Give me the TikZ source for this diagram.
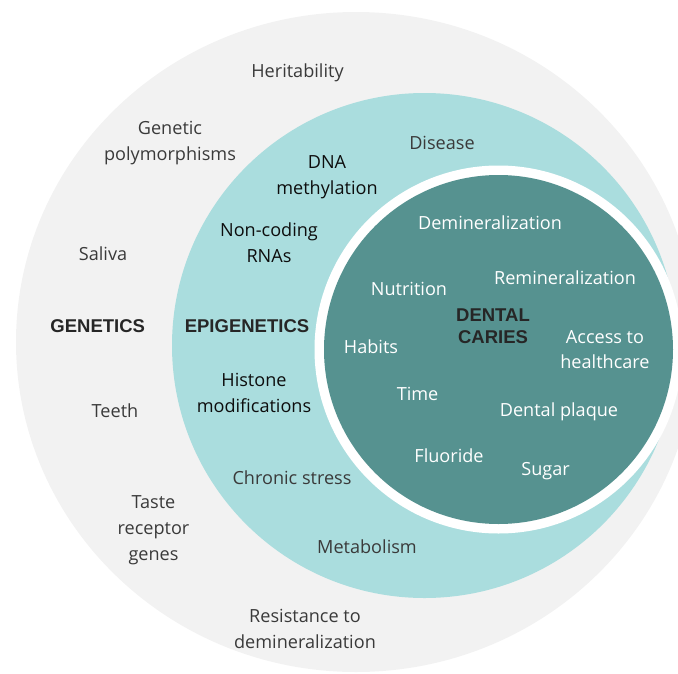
\documentclass[tikz,border=0pt]{standalone}
\usepackage{fontspec}
\setmainfont{Open Sans}
\newfontfamily\headfont{Liberation Sans}
\definecolor{genegrey}{HTML}{F2F2F2}
\definecolor{epiteal}{HTML}{AADDDE}
\definecolor{cariesteal}{HTML}{569290}
\definecolor{labelgrey}{HTML}{3A3A3A}
\definecolor{labelblack}{HTML}{0D0D0D}
\definecolor{headgrey}{HTML}{262626}
\begin{document}
\begin{tikzpicture}[x=1pt,y=-1pt,
  lbl/.style={align=center, inner sep=0pt, font=\fontsize{18.1}{25.8}\selectfont},
  outerlbl/.style={lbl, text=labelgrey},
  epilbl/.style={lbl, text=labelblack},
  episoft/.style={lbl, text=labelgrey},
  carieslbl/.style={lbl, text=white},
  heading/.style={align=center, inner sep=0pt, text=headgrey,
    font=\headfont\bfseries\fontsize{18.5}{22}\selectfont}]
\useasboundingbox (0,0) rectangle (678,673);
\clip (0,0) rectangle (678,673);

% nested zones: genetics, epigenetics, dental caries
\fill[genegrey] (356,342) ellipse [x radius=340, y radius=330];
\fill[epiteal] (424.5,345.5) circle (252.5);
\fill[white] (498.5,349.5) circle (184);
\fill[cariesteal] (498.5,349.5) circle (174.5);

% genetics zone
\node[outerlbl] (her) at (297.5,72.5) {Heritability};
\node[outerlbl] (poly) at (170,143) {Genetic\\polymorphisms};
\node[outerlbl] (saliva) at (103,254) {Saliva};
\node[heading] (genetics) at (97.7,326) {GENETICS};
\node[outerlbl] (teeth) at (115,411) {Teeth};
\node[outerlbl] (taste) at (153.5,530.5) {Taste\\receptor\\genes};
\node[outerlbl] (resist) at (305,629) {Resistance to\\demineralization};

% epigenetics zone
\node[episoft] (disease) at (442,143) {Disease};
\node[epilbl] (dna) at (327,177.5) {DNA\\methylation};
\node[epilbl] (ncrna) at (269,243) {Non-coding\\RNAs};
\node[heading] (epigen) at (247,326) {EPIGENETICS};
\node[epilbl] (histone) at (254,393) {Histone\\modifications};
\node[episoft] (stress) at (292,478) {Chronic stress};
\node[episoft] (metab) at (367,546.5) {Metabolism};

% dental caries zone
\node[carieslbl] (demin) at (490,223) {Demineralization};
\node[carieslbl] (remin) at (565,278) {Remineralization};
\node[carieslbl] (nutri) at (409,289) {Nutrition};
\node[heading] (caries) at (493,326.6) {DENTAL\\CARIES};
\node[carieslbl] (habits) at (371,347) {Habits};
\node[carieslbl] (access) at (605,349.5) {Access to\\healthcare};
\node[carieslbl] (time) at (417.6,393.5) {Time};
\node[carieslbl] (plaque) at (559,411.5) {Dental plaque};
\node[carieslbl] (fluor) at (449,456) {Fluoride};
\node[carieslbl] (sugar) at (545.6,471) {Sugar};
\end{tikzpicture}
\end{document}
